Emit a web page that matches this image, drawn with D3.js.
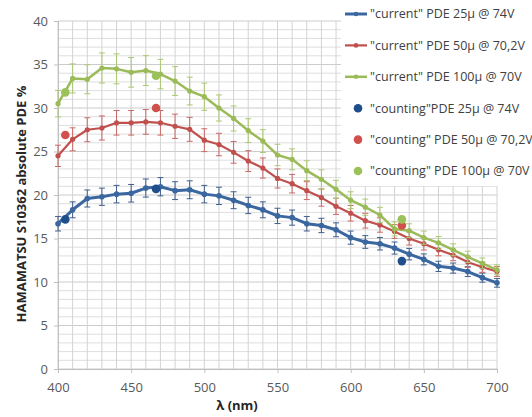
<!DOCTYPE html>
<html>
<head>
<meta charset="utf-8">
<script src="https://cdn.jsdelivr.net/npm/d3@7"></script>
<style>
  body { margin: 0; background: #fff; }
  text { font-family: "Open Sans", sans-serif; }
</style>
</head>
<body>
<div id="chart-area"></div>
<script>
// wavelengths (nm) of the "current" measurements
var lambda = [400, 410, 420, 430, 440, 450, 460, 470, 480, 490, 500, 510, 520, 530, 540, 550,
              560, 570, 580, 590, 600, 610, 620, 630, 640, 650, 660, 670, 680, 690, 700];

var current25 = [16.7, 18.3, 19.6, 19.8, 20.1, 20.2, 20.8, 20.95, 20.5, 20.6, 20.1, 19.9, 19.4, 18.8, 18.3, 17.6,
                 17.4, 16.7, 16.5, 16.0, 15.1, 14.6, 14.4, 13.9, 13.2, 12.6, 11.8, 11.6, 11.2, 10.5, 9.9];
var current50 = [24.5, 26.4, 27.5, 27.7, 28.3, 28.3, 28.4, 28.3, 27.9, 27.55, 26.3, 25.8, 24.9, 23.9, 23.1, 21.9,
                 21.3, 20.5, 19.7, 18.7, 17.9, 17.05, 16.55, 15.8, 15.0, 14.4, 13.7, 13.1, 12.3, 11.7, 11.2];
var current100 = [30.5, 33.4, 33.3, 34.6, 34.5, 34.1, 34.3, 33.9, 33.1, 31.95, 31.3, 30.0, 28.8, 27.4, 26.2, 24.6,
                  24.1, 22.8, 21.8, 20.65, 19.4, 18.6, 17.7, 16.1, 15.9, 15.1, 14.5, 13.7, 12.9, 12.15, 11.4];

// "counting" measurements
var lambdaCounting = [405, 467, 635];
var counting25 = [17.2, 20.7, 12.4];
var counting50 = [26.9, 30.0, 16.5];
var counting100 = [31.8, 33.7, 17.2];

// error bars are percentage error bars (5 %)
var errPct = 0.05;

var xTicks = [400, 450, 500, 550, 600, 650, 700];
var yTicks = [0, 5, 10, 15, 20, 25, 30, 35, 40];

var legendLabels = [
    "\"current\" PDE 25\u00b5 @ 74V",
    "\"current\" PDE 50\u00b5 @ 70,2V",
    "\"current\" PDE 100\u00b5 @ 70V",
    "\"counting\"PDE 25\u00b5 @ 74V",
    "\"counting\" PDE 50\u00b5 @ 70,2V",
    "\"counting\" PDE 100\u00b5 @ 70V"
];

var W = 532, H = 417;
var margin = { left: 58, right: 35, top: 21, bottom: 48 };
var width = W - margin.left - margin.right;
var height = H - margin.top - margin.bottom;

var svg = d3.select("#chart-area").append("svg")
    .attr("width", W)
    .attr("height", H);

var g = svg.append("g")
    .attr("transform", "translate(" + margin.left + ", " + margin.top + ")");

var x = d3.scaleLinear().domain([400, 700]).range([0, width]);
var y = d3.scaleLinear().domain([0, 40]).range([height, 0]);

// grid
g.append("g").selectAll("line")
    .data(d3.range(0, 41, 1))
    .enter().append("line")
        .attr("x1", 0).attr("x2", width)
        .attr("y1", (d) => y(d)).attr("y2", (d) => y(d))
        .attr("stroke", (d) => d % 5 == 0 ? "#cccccc" : "#dedede")
        .attr("stroke-width", 1);

g.append("g").selectAll("line")
    .data(d3.range(400, 701, 10))
    .enter().append("line")
        .attr("x1", (d) => x(d)).attr("x2", (d) => x(d))
        .attr("y1", 0).attr("y2", height)
        .attr("stroke", "#d3d3d3")
        .attr("stroke-width", 1);

// legend backdrop covers the grid
svg.append("rect")
    .attr("x", 341).attr("y", 0)
    .attr("width", W - 341).attr("height", 186)
    .attr("fill", "#fff");

// x Axis
var xAxisCall = d3.axisBottom(x).tickValues(xTicks).tickSize(4).tickPadding(10);
g.append("g")
    .attr("class", "x axis")
    .attr("transform", "translate(0, " + height + ")")
    .call(xAxisCall);

// y Axis
var yAxisCall = d3.axisLeft(y).tickValues(yTicks).tickSize(4).tickPadding(6);
g.append("g")
    .attr("class", "y axis")
    .call(yAxisCall);

g.selectAll(".axis .domain").attr("stroke", "#bfbfbf");
g.selectAll(".axis .tick line").attr("stroke", "#bfbfbf");
g.selectAll(".axis .tick text")
    .attr("fill", "#595959")
    .style("font-family", "'Open Sans', sans-serif")
    .style("font-size", "13px");

// axis titles
svg.append("text")
    .attr("x", 237)
    .attr("y", 410)
    .attr("text-anchor", "middle")
    .text("\u03bb (nm)")
    .style("fill", "#262626")
    .style("font-size", "13px")
    .style("font-weight", "bold");

svg.append("text")
    .attr("transform", "translate(26, 204) rotate(-90)")
    .attr("text-anchor", "middle")
    .text("HAMAMATSU S10362 absolute PDE %")
    .style("fill", "#262626")
    .style("font-size", "13px")
    .style("font-weight", "bold");

// series
var series = [
    { values: current25, line: "#3a67a0", err: "#3f5f8c", width: 3, r: 2.8 },
    { values: current50, line: "#c0504d", err: "#c86a67", width: 2.2, r: 2.6 },
    { values: current100, line: "#9bbb59", err: "#aac873", width: 2.5, r: 2.6 }
];

var line = d3.line()
    .x((d) => x(d.l))
    .y((d) => y(d.v));

series.forEach((s) => {
    var pts = lambda.map((l, i) => ({ l: l, v: s.values[i] }));
    var sg = g.append("g");

    // error bars
    var eb = sg.selectAll(".err")
        .data(pts)
        .enter().append("g");
    eb.append("line")
        .attr("x1", (d) => x(d.l)).attr("x2", (d) => x(d.l))
        .attr("y1", (d) => y(d.v * (1 + errPct))).attr("y2", (d) => y(d.v * (1 - errPct)))
        .attr("stroke", s.err).attr("stroke-width", 1);
    [1 + errPct, 1 - errPct].forEach((f) => {
        eb.append("line")
            .attr("x1", (d) => x(d.l) - 3).attr("x2", (d) => x(d.l) + 3)
            .attr("y1", (d) => y(d.v * f)).attr("y2", (d) => y(d.v * f))
            .attr("stroke", s.err).attr("stroke-width", 1);
    });

    sg.append("path")
        .datum(pts)
        .attr("fill", "none")
        .attr("stroke", s.line)
        .attr("stroke-width", s.width)
        .attr("stroke-linejoin", "round")
        .attr("d", line);

    sg.selectAll("circle")
        .data(pts)
        .enter().append("circle")
            .attr("cx", (d) => x(d.l))
            .attr("cy", (d) => y(d.v))
            .attr("r", s.r)
            .attr("fill", s.line);
});

// counting points
var counting = [
    { values: counting25, color: "#1f4e8c" },
    { values: counting50, color: "#d0504c" },
    { values: counting100, color: "#9bc15a" }
];

counting.forEach((c) => {
    g.append("g").selectAll("circle")
        .data(lambdaCounting.map((l, i) => ({ l: l, v: c.values[i] })))
        .enter().append("circle")
            .attr("cx", (d) => x(d.l))
            .attr("cy", (d) => y(d.v))
            .attr("r", 4.3)
            .attr("fill", c.color);
});

// legend
var legendY = d3.scalePoint().domain(d3.range(6)).range([14, 171]);
var legend = svg.append("g");

legendLabels.forEach((label, i) => {
    var ly = legendY(i);
    if (i < 3) {
        legend.append("line")
            .attr("x1", 345).attr("x2", 367)
            .attr("y1", ly).attr("y2", ly)
            .attr("stroke", series[i].line)
            .attr("stroke-width", series[i].width);
        legend.append("circle")
            .attr("cx", 356).attr("cy", ly).attr("r", 2.3)
            .attr("fill", series[i].line);
    } else {
        legend.append("circle")
            .attr("cx", 358).attr("cy", ly).attr("r", 4.3)
            .attr("fill", counting[i - 3].color);
    }
    legend.append("text")
        .attr("x", 370)
        .attr("y", ly)
        .attr("dy", "0.35em")
        .text(label)
        .style("fill", "#404040")
        .style("font-size", "12.5px");
});
</script>
</body>
</html>
